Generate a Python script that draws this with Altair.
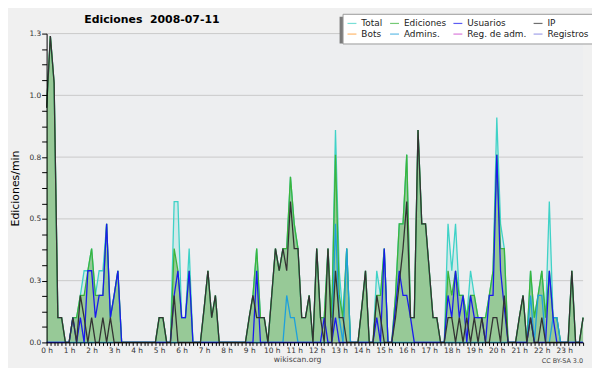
import altair as alt
import pandas as pd

SERIES = ["Total", "Ediciones", "Usuarios", "IP", "Bots", "Admins.", "Reg. de adm.", "Registros"]
COLORS = ["#3fd2c7", "#3cb43c", "#1a1aee", "#333333", "#ff9a2e", "#1ea0dc", "#cc44cc", "#7a7ae0"]
TITLE = "Ediciones\u00a0 2008-07-11"
Y_TITLE = "Ediciones/min"
X_TITLE = "wikiscan.org"
LICENSE = "CC BY-SA 3.0"

# 10-minute bins (6 per hour, 144 per day), edits per minute
TOTAL = [
    0.95, 1.24, 1.05, 0.1, 0.1, 0,   0, 0.1, 0.1, 0.19, 0.29, 0.29,   0.38, 0.19, 0.29, 0.29, 0.48, 0.1,   0.19, 0.29, 0, 0, 0, 0,
    0, 0, 0, 0, 0, 0,   0.1, 0.1, 0, 0, 0.57, 0.57,   0.1, 0.1, 0.38, 0, 0, 0,   0.14, 0.29, 0.1, 0.19, 0, 0,
    0, 0, 0, 0, 0, 0,   0.1, 0.19, 0.38, 0.1, 0.1, 0,   0.19, 0.38, 0.29, 0.38, 0.38, 0.67,   0.48, 0.38, 0.1, 0.1, 0.19, 0,
    0.38, 0.1, 0.1, 0.38, 0.1, 0.86,   0.29, 0.1, 0.38, 0, 0, 0,   0.14, 0.29, 0, 0, 0.29, 0.19,   0.38, 0, 0, 0.19, 0.48, 0.48,
    0.76, 0.1, 0.1, 0.86, 0.48, 0.48,   0.29, 0.1, 0.1, 0, 0, 0.48,   0.29, 0.48, 0.19, 0.19, 0.1, 0.29,   0.19, 0.1, 0.1, 0.1, 0.19, 0.29,
    0.91, 0.48, 0.38, 0, 0, 0,   0.1, 0.19, 0, 0.29, 0.1, 0.19,   0.29, 0.1, 0.57, 0.1, 0.1, 0,   0, 0, 0.29, 0, 0, 0.1,
]
EDITS = [
    0.95, 1.24, 1.05, 0.1, 0.1, 0,   0, 0.1, 0.1, 0.19, 0.19, 0.29,   0.38, 0.19, 0.19, 0.19, 0.48, 0.1,   0.19, 0.29, 0, 0, 0, 0,
    0, 0, 0, 0, 0, 0,   0.1, 0.1, 0, 0, 0.38, 0.29,   0.1, 0.1, 0.29, 0, 0, 0,   0.14, 0.29, 0.1, 0.19, 0, 0,
    0, 0, 0, 0, 0, 0,   0.1, 0.19, 0.38, 0.1, 0.1, 0,   0.19, 0.38, 0.29, 0.38, 0.38, 0.67,   0.48, 0.38, 0.1, 0.1, 0.19, 0,
    0.38, 0.1, 0.1, 0.38, 0.1, 0.76,   0.19, 0.1, 0.38, 0, 0, 0,   0.14, 0.29, 0, 0, 0.19, 0.19,   0.38, 0, 0, 0.19, 0.48, 0.48,
    0.76, 0.1, 0.1, 0.86, 0.48, 0.48,   0.29, 0.1, 0.1, 0, 0, 0.29,   0.19, 0.29, 0.19, 0.19, 0.1, 0.19,   0.19, 0.1, 0.1, 0.1, 0.19, 0.29,
    0.76, 0.38, 0.38, 0, 0, 0,   0.1, 0.19, 0, 0.29, 0.1, 0.19,   0.29, 0.1, 0.29, 0.1, 0.1, 0,   0, 0, 0.29, 0, 0, 0.1,
]
USERS = [
    0, 0, 0, 0, 0, 0,   0, 0.1, 0, 0.1, 0, 0.29,   0.29, 0.1, 0.19, 0.19, 0.48, 0.1,   0.19, 0.29, 0, 0, 0, 0,
    0, 0, 0, 0, 0, 0,   0, 0, 0, 0, 0.19, 0.29,   0.1, 0.1, 0.29, 0, 0, 0,   0, 0, 0, 0, 0, 0,
    0, 0, 0, 0, 0, 0,   0, 0, 0.29, 0, 0, 0,   0, 0, 0, 0, 0, 0,   0, 0, 0, 0, 0, 0,
    0, 0, 0.1, 0, 0, 0.1,   0, 0, 0, 0, 0, 0,   0, 0, 0, 0, 0.1, 0,   0.38, 0, 0, 0.14, 0.29, 0.19,
    0.19, 0.1, 0, 0, 0, 0,   0, 0, 0, 0, 0, 0.19,   0.1, 0.29, 0.1, 0.19, 0, 0.19,   0.1, 0.1, 0.1, 0, 0.19, 0.19,
    0.76, 0.29, 0.14, 0, 0, 0,   0, 0, 0, 0.1, 0, 0,   0, 0, 0.29, 0.1, 0, 0,   0, 0, 0, 0, 0, 0,
]
IP = [
    0.95, 1.24, 1.05, 0.1, 0.1, 0,   0, 0.1, 0, 0.19, 0.1, 0,   0.1, 0, 0, 0.1, 0, 0.1,   0, 0, 0, 0, 0, 0,
    0, 0, 0, 0, 0, 0,   0.1, 0.1, 0, 0, 0.19, 0,   0, 0, 0, 0, 0, 0,   0.14, 0.29, 0.1, 0.19, 0, 0,
    0, 0, 0, 0, 0, 0,   0.1, 0.19, 0.1, 0.1, 0.1, 0,   0.19, 0.38, 0.29, 0.38, 0.29, 0.57,   0.38, 0.38, 0.1, 0.1, 0.19, 0,
    0.38, 0.1, 0, 0.38, 0, 0.29,   0.1, 0.1, 0, 0, 0, 0,   0.14, 0.29, 0, 0, 0.19, 0.1,   0, 0, 0, 0.1, 0.24, 0.38,
    0.57, 0.1, 0.1, 0.86, 0.48, 0.48,   0.29, 0.1, 0.1, 0, 0, 0.1,   0.1, 0, 0.1, 0, 0.1, 0,   0.1, 0, 0.1, 0, 0, 0.1,
    0.1, 0, 0.19, 0, 0, 0,   0.1, 0.19, 0, 0.1, 0, 0,   0.1, 0, 0, 0, 0, 0,   0, 0, 0.29, 0, 0, 0.1,
]
ADMINS = [
    0, 0, 0, 0, 0, 0,   0, 0, 0, 0, 0, 0,   0, 0, 0, 0, 0, 0,   0, 0, 0, 0, 0, 0,
    0, 0, 0, 0, 0, 0,   0, 0, 0, 0, 0, 0,   0, 0, 0, 0, 0, 0,   0, 0, 0, 0, 0, 0,
    0, 0, 0, 0, 0, 0,   0, 0, 0, 0, 0, 0,   0, 0, 0, 0, 0.19, 0.1,   0.1, 0, 0, 0, 0, 0,
    0, 0, 0, 0, 0, 0.48,   0.1, 0, 0.38, 0, 0, 0,   0, 0, 0, 0, 0, 0,   0, 0, 0, 0, 0, 0,
    0, 0, 0, 0, 0, 0,   0, 0, 0, 0, 0, 0,   0, 0, 0, 0, 0, 0,   0, 0, 0, 0, 0, 0,
    0, 0, 0, 0, 0, 0,   0, 0, 0, 0.19, 0, 0.19,   0.19, 0, 0, 0.1, 0.1, 0,   0, 0, 0, 0, 0, 0,
]
GRID = [0.25, 0.5, 0.75, 1.0, 1.25]

SERIES_DATA = {"Total": TOTAL, "Ediciones": EDITS, "Usuarios": USERS, "IP": IP, "Admins.": ADMINS}
rows = []
for name, vals in SERIES_DATA.items():
    for i, v in enumerate(vals):
        rows.append({"bin": i, "series": name, "value": v})
df = pd.DataFrame(rows)

FONT = "DejaVu Sans"

x_enc = alt.X(
    "bin:Q",
    scale=alt.Scale(domain=[0, 143], nice=False, zero=False),
    axis=alt.Axis(
        values=list(range(144)),
        labelExpr="datum.value % 6 == 0 ? (datum.value / 6) + ' h' : ''",
        tickSize=3, tickColor="black", domainColor="black",
        labelFontSize=7.5, labelFont=FONT, labelColor="#333", labelPadding=1,
        labelOverlap=False, labelFlush=False, grid=False,
        title=X_TITLE, titleX=253, titleY=17, titleBaseline="middle", titleAlign="center",
        titleFontSize=7.7, titleFont=FONT, titleFontWeight="normal", titleColor="#444",
        zindex=1,
    ),
)
y_enc = alt.Y(
    "value:Q",
    scale=alt.Scale(domain=[0, 1.25], nice=False),
    axis=alt.Axis(
        values=[k * 0.0625 for k in range(21)],
        labelExpr="datum.value % 0.25 == 0 ? format(datum.value, '.1f') : ''",
        tickSize=5, tickColor="black", domainColor="black",
        labelFontSize=7.5, labelFont=FONT, labelColor="#333", labelPadding=1,
        labelOverlap=False, grid=False,
        title=Y_TITLE, titleX=-31, titleY=156, titleAngle=-90, titleAlign="center",
        titleBaseline="middle", titleFontSize=11, titleFont=FONT, titleFontWeight="normal",
        titleColor="black", zindex=1,
    ),
)

color_enc = alt.Color(
    "series:N",
    scale=alt.Scale(domain=SERIES, range=COLORS),
    legend=alt.Legend(
        title=None, orient="none", legendX=299, legendY=-20, columns=4, direction="horizontal",
        symbolType="stroke", symbolSize=81, symbolStrokeWidth=1.2, symbolOpacity=0.7,
        labelFontSize=9, labelFont=FONT, labelColor="#222", labelOffset=4,
        columnPadding=4, rowPadding=0, padding=4,
        fillColor="white", strokeColor="#999",
    ),
)

base = alt.Chart(df)

grid = alt.Chart(pd.DataFrame({"value": GRID})).mark_rule(color="#c9c9c9", strokeWidth=1).encode(y=y_enc)

area_total = base.transform_filter(alt.datum.series == "Total").mark_area(
    color="#3fd2c7", opacity=0.16).encode(x=x_enc, y=y_enc)
area_edits = base.transform_filter(alt.datum.series == "Ediciones").mark_area(
    color="#97c997", opacity=1).encode(x=x_enc, y=y_enc)


def line(name, width=1.3):
    return base.transform_filter(alt.datum.series == name).mark_line(
        strokeWidth=width).encode(x=x_enc, y=y_enc, color=color_enc)


shadow = alt.Chart(pd.DataFrame({"a": [0]})).mark_rect(color="#7a7a7a").encode(
    x=alt.value(296), x2=alt.value(543), y=alt.value(-17), y2=alt.value(10))

title_txt = alt.Chart(pd.DataFrame({"t": [TITLE]})).mark_text(
    align="left", baseline="alphabetic", fontSize=11, font=FONT, fontWeight="bold",
    color="black").encode(text="t:N", x=alt.value(38), y=alt.value(-11))

license_txt = alt.Chart(pd.DataFrame({"t": [LICENSE]})).mark_text(
    align="right", baseline="middle", fontSize=6.5, font=FONT, color="#444").encode(
    text="t:N", x=alt.value(542), y=alt.value(331))

chart = alt.layer(
    grid, area_total, area_edits,
    line("Total"), line("Ediciones"), line("Admins."), line("Usuarios"), line("IP"),
    shadow, title_txt, license_txt,
).properties(
    width=542, height=312,
    padding={"left": 39, "top": 24, "right": 9, "bottom": 24},
    autosize=alt.AutoSizeParams(type="none"),
).configure(background="#f0f0f0").configure_view(fill="#edeef0", strokeWidth=0)

chart.save("out.html", embed_options={"renderer": "svg", "actions": False})
